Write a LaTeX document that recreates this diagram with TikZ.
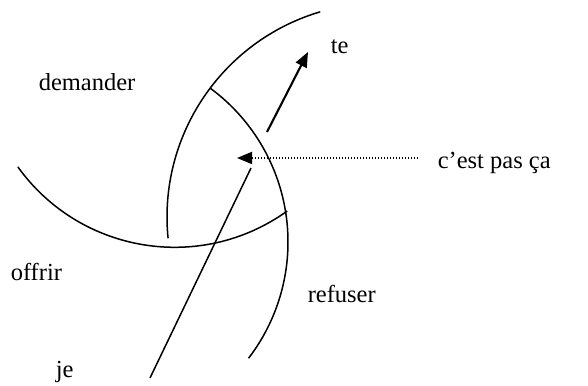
\documentclass[tikz,border=0pt]{standalone}
\usepackage{fontspec}
\setmainfont{Liberation Serif}
\usetikzlibrary{arrows.meta}

\begin{document}
\begin{tikzpicture}[
  x=1pt, y=1pt,
  lbl/.style={anchor=base west, inner sep=0pt, font=\fontsize{24.5}{29}\selectfont},
  >={Triangle[length=15pt,width=12pt]}, line width=1.5pt
]
  \useasboundingbox (0,0) rectangle (588,385);

  % labels
  \node[lbl] (te)   at (330,331) {te};
  \node[lbl] (dem)  at (38,294)  {demander};
  \node[lbl] (cpc)  at (437,216) {c’est pas ça};
  \node[lbl] (off)  at (10,104)  {offrir};
  \node[lbl] (ref)  at (307,82)  {refuser};
  \node[lbl] (je)   at (55,8)    {je};

  % arcs
  \draw (381,168) ++(106.5:214pt) arc[start angle=106.5, end angle=185.7, radius=214pt];
  \draw (97,143) ++(53.7:191pt) arc[start angle=53.7, end angle=-37.5, radius=191pt];
  \draw (174.6,330.7) ++(-144.3:193pt) arc[start angle=-144.3, end angle=-54.3, radius=193pt];

  % ends of the strokes
  \coordinate (je0) at (150,7);
  \coordinate (je1) at (251,217);
  \coordinate (te0) at (267,253);
  \coordinate (te1) at (308,333);
  \coordinate (cpc0) at (418,227);
  \coordinate (cpc1) at (237,227);

  \draw (je0) -- (je1);
  \draw[->, line width=2.1pt] (te0) -- (te1);
  \draw[->, dash pattern=on 1.5pt off 1.5pt, line width=1.8pt] (cpc0) -- (cpc1);
\end{tikzpicture}
\end{document}
